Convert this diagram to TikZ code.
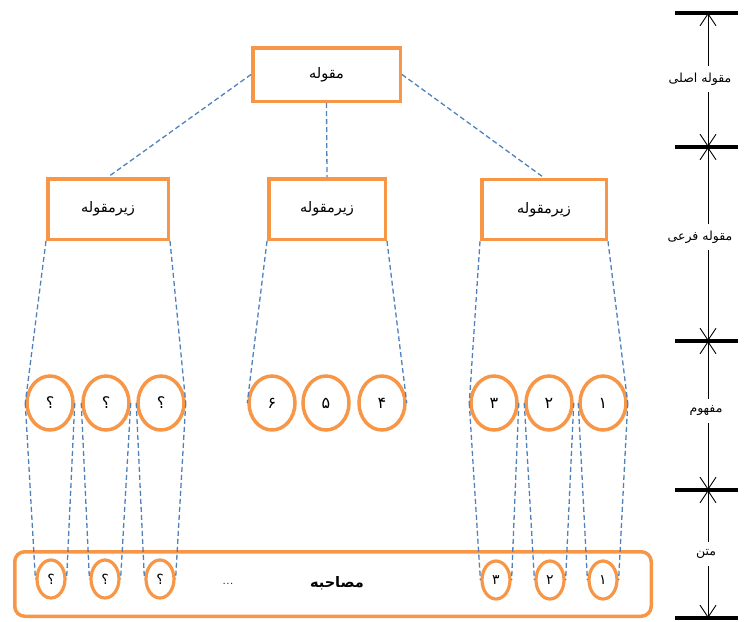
\documentclass[tikz,border=0pt]{standalone}
\usepackage{fontspec}
\usepackage{xcolor}
\usetikzlibrary{arrows.meta, shapes.geometric}
\newfontfamily\fafont[Script=Arabic]{DejaVu Sans}
\TeXXeTstate=1
\definecolor{accorange}{RGB}{247,150,70}
\definecolor{accblue}{RGB}{79,129,189}
\newcommand{\fa}[1]{{\fafont\beginR #1\endR}}

\begin{document}
\begin{tikzpicture}[x=1pt,y=-1pt,
    every node/.style={font=\fafont\fontsize{14.5}{16}\selectfont},
    catbox/.style={draw=accorange,line width=3.5pt,inner sep=0pt},
    concept/.style={ellipse,draw=accorange,line width=3.5pt,inner sep=0pt,
                    minimum width=46pt,minimum height=54pt,
                    font=\fafont\fontsize{16}{18}\selectfont},
    smallconcept/.style={ellipse,draw=accorange,line width=3.2pt,inner sep=0pt,
                    minimum width=28pt,minimum height=38pt,
                    font=\fafont\fontsize{14}{16}\selectfont},
    link/.style={accblue,line width=1.3pt,dash pattern=on 5pt off 3pt},
    levelbar/.style={line width=3.2pt},
    levellabel/.style={inner sep=7pt,font=\fafont\fontsize{12.5}{14}\selectfont},
    levelarrow/.style={line width=0.9pt,-{Straight Barb[length=12pt,width=16pt]}}]
  \useasboundingbox (0,0) rectangle (744,621);
  % categories
  \node[catbox,minimum width=147.5pt,minimum height=53.5pt] (main) at (326.5,74.5) {\fa{مقوله}};
  \node[catbox,minimum width=120.5pt,minimum height=60.5pt] (subl) at (108,209) {\fa{زیرمقوله}};
  \node[catbox,minimum width=116.5pt,minimum height=60.5pt] (subm) at (327,209) {\fa{زیرمقوله}};
  \node[catbox,minimum width=124.5pt,minimum height=60pt] (subr) at (544,209.5) {\fa{زیرمقوله}};
  % concepts
  \node[concept] (ql) at (50,403) {\fa{؟}};
  \node[concept] (qm) at (106,403) {\fa{؟}};
  \node[concept] (qr) at (161,403) {\fa{؟}};
  \node[concept] (six) at (272,403) {\fa{۶}};
  \node[concept] (five) at (326,403) {\fa{۵}};
  \node[concept] (four) at (382,403) {\fa{۴}};
  \node[concept] (three) at (494,403) {\fa{۳}};
  \node[concept] (two) at (549,403) {\fa{۲}};
  \node[concept] (one) at (603,403) {\fa{۱}};
  % text
  \node[draw=accorange,line width=3.5pt,rounded corners=10pt,inner sep=0pt,
        minimum width=636.5pt,minimum height=64.5pt] (interview) at (333,584) {};
  \node[font=\fafont\bfseries\fontsize{14.5}{16}\selectfont] (title) at (337,583) {\fa{مصاحبه}};
  \node[font=\fontsize{15}{17}\selectfont] (dots) at (228,584) {...};
  \node[smallconcept] (sql) at (51,579) {\fa{؟}};
  \node[smallconcept] (sqm) at (105,579) {\fa{؟}};
  \node[smallconcept] (sqr) at (160,579) {\fa{؟}};
  \node[smallconcept] (sthree) at (496,580) {\fa{۳}};
  \node[smallconcept] (stwo) at (550,580) {\fa{۲}};
  \node[smallconcept] (sone) at (603,580) {\fa{۱}};
  % links
  \draw[link] (main.west) -- (subl.north);
  \draw[link] (main.south) -- (subm.north);
  \draw[link] (main.east) -- (subr.north);
  \draw[link] (subl.south west) -- (ql.west);
  \draw[link] (subl.south east) -- (qr.east);
  \draw[link] (subm.south west) -- (six.west);
  \draw[link] (subm.south east) -- (four.east);
  \draw[link] (subr.south west) -- (three.west);
  \draw[link] (subr.south east) -- (one.east);
  \draw[link] (ql.west) -- (sql.west);
  \draw[link] (ql.east) -- (sql.east);
  \draw[link] (qm.west) -- (sqm.west);
  \draw[link] (qm.east) -- (sqm.east);
  \draw[link] (qr.west) -- (sqr.west);
  \draw[link] (qr.east) -- (sqr.east);
  \draw[link] (three.west) -- (sthree.west);
  \draw[link] (three.east) -- (sthree.east);
  \draw[link] (two.west) -- (stwo.west);
  \draw[link] (two.east) -- (stwo.east);
  \draw[link] (one.west) -- (sone.west);
  \draw[link] (one.east) -- (sone.east);
  % levels
  \coordinate (b1) at (708,13);
  \coordinate (b2) at (708,147);
  \coordinate (b3) at (708,341);
  \coordinate (b4) at (708,490);
  \coordinate (b5) at (708,618);
  \foreach \b in {b1,b2,b3,b4,b5}
    \draw[levelbar] ([xshift=-33pt]\b) -- ([xshift=30pt]\b);
  \node[levellabel] (lmain) at (700,79) {\fa{مقوله اصلی}};
  \node[levellabel] (lsub) at (700,237) {\fa{مقوله فرعی}};
  \node[levellabel] (lconcept) at (706,411) {\fa{مفهوم}};
  \node[levellabel] (ltext) at (706,554) {\fa{متن}};
  \draw[levelarrow] (lmain.north -| b1) -- (b1);
  \draw[levelarrow] (lmain.south -| b2) -- (b2);
  \draw[levelarrow] (lsub.north -| b2) -- (b2);
  \draw[levelarrow] (lsub.south -| b3) -- (b3);
  \draw[levelarrow] (lconcept.north -| b3) -- (b3);
  \draw[levelarrow] (lconcept.south -| b4) -- (b4);
  \draw[levelarrow] (ltext.north -| b4) -- (b4);
  \draw[levelarrow] (ltext.south -| b5) -- (b5);
\end{tikzpicture}
\end{document}
